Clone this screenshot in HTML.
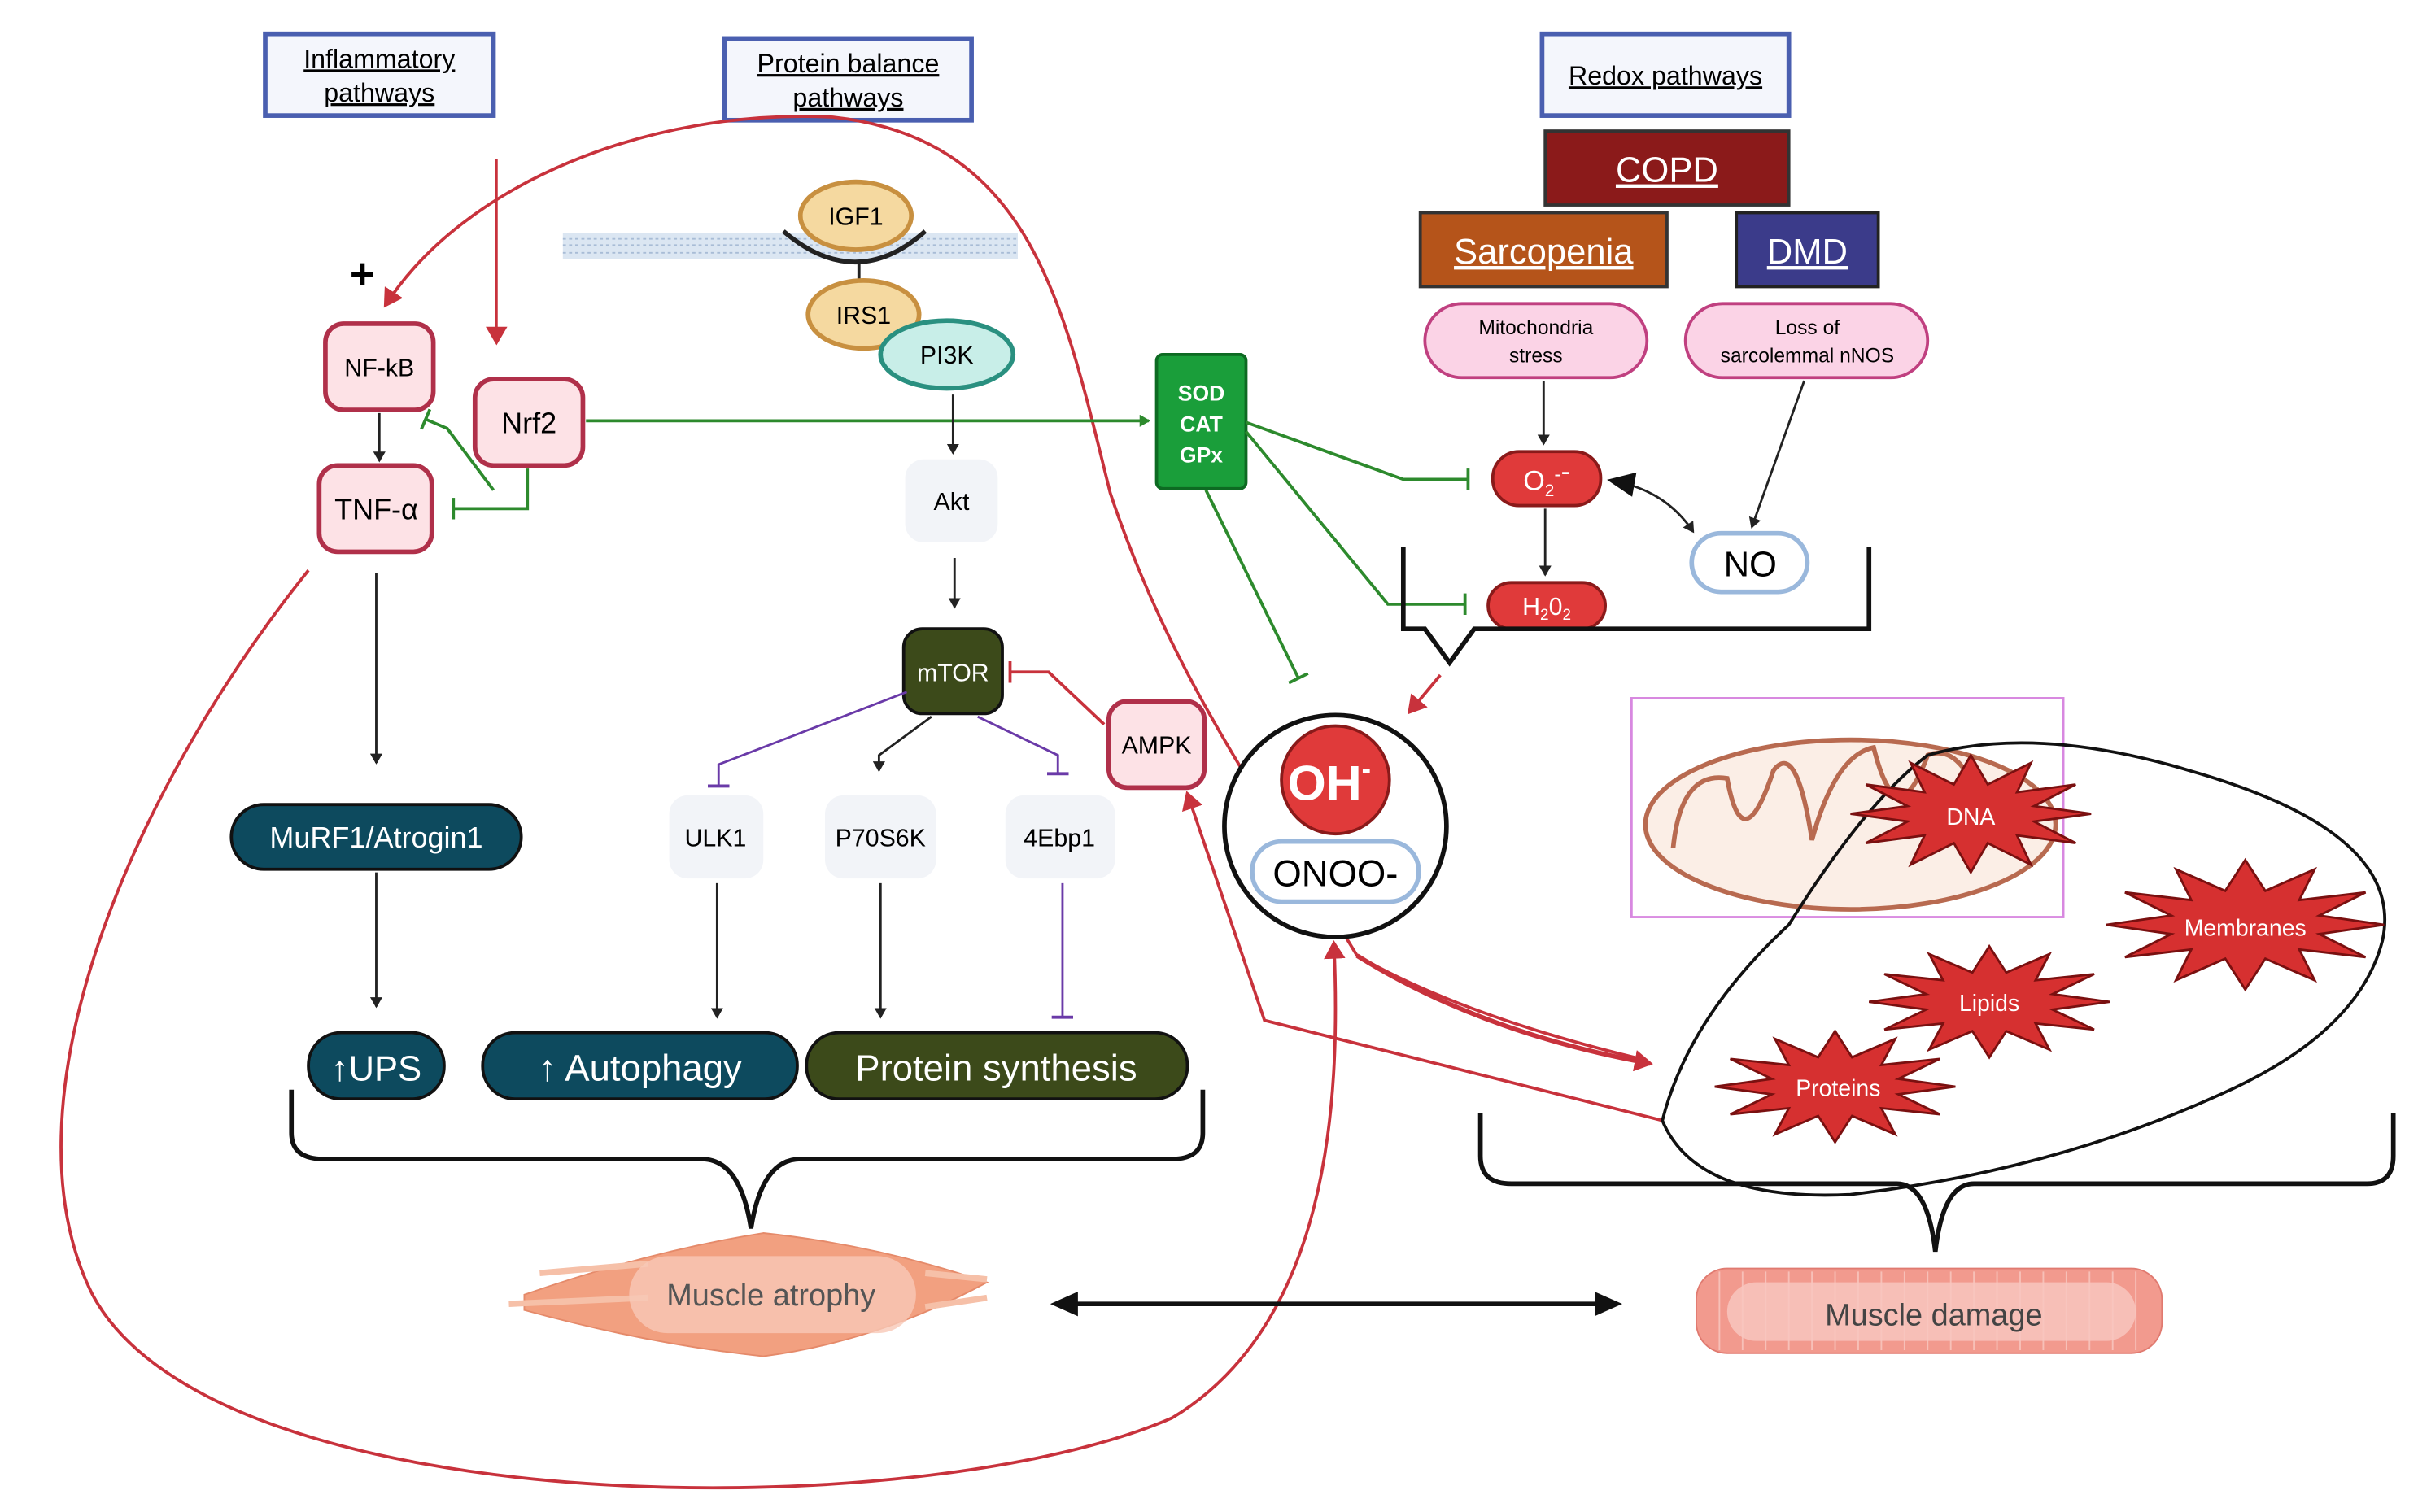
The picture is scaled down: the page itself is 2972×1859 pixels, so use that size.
<!DOCTYPE html>
<html><head><meta charset="utf-8"><style>
html,body{margin:0;padding:0;background:#fff}
svg{display:block}
text{font-family:"Liberation Sans",sans-serif}
</style></head><body>
<svg width="2972" height="1859" viewBox="0 0 1568 981" preserveAspectRatio="none" xmlns="http://www.w3.org/2000/svg">
<defs>
<marker id="ak" markerWidth="8" markerHeight="8" refX="6" refY="4" orient="auto" markerUnits="userSpaceOnUse"><path d="M0,0 L7,4 L0,8z" fill="#222"/></marker>
<marker id="ar" markerWidth="14" markerHeight="14" refX="10" refY="7" orient="auto" markerUnits="userSpaceOnUse"><path d="M0,0 L12,7 L0,14z" fill="#c8323c"/></marker>
<marker id="ag" markerWidth="8" markerHeight="8" refX="6" refY="4" orient="auto" markerUnits="userSpaceOnUse"><path d="M0,0 L7,4 L0,8z" fill="#2d8a2d"/></marker>
<marker id="tg" markerWidth="4" markerHeight="14" refX="2" refY="7" orient="auto" markerUnits="userSpaceOnUse"><path d="M2,0 L2,14" stroke="#2d8a2d" stroke-width="2"/></marker>
<marker id="tp" markerWidth="4" markerHeight="14" refX="2" refY="7" orient="auto" markerUnits="userSpaceOnUse"><path d="M2,0 L2,14" stroke="#6a3aa8" stroke-width="2"/></marker>
<marker id="tr" markerWidth="4" markerHeight="14" refX="2" refY="7" orient="auto" markerUnits="userSpaceOnUse"><path d="M2,0 L2,14" stroke="#c8323c" stroke-width="2"/></marker>
<marker id="bk" markerWidth="20" markerHeight="20" refX="14" refY="10" orient="auto" markerUnits="userSpaceOnUse"><path d="M0,2 L18,10 L0,18z" fill="#111"/></marker>
<marker id="bks" markerWidth="20" markerHeight="20" refX="4" refY="10" orient="auto" markerUnits="userSpaceOnUse"><path d="M18,2 L0,10 L18,18z" fill="#111"/></marker>
</defs>

<!-- headers -->
<rect x="172" y="22" width="148" height="53" fill="#f4f6fc" stroke="#4a5fb0" stroke-width="3"/>
<text x="246" y="44" font-size="17" text-anchor="middle" text-decoration="underline">Inflammatory</text>
<text x="246" y="66" font-size="17" text-anchor="middle" text-decoration="underline">pathways</text>
<rect x="470" y="25" width="160" height="53" fill="#f4f6fc" stroke="#4a5fb0" stroke-width="3"/>
<text x="550" y="47" font-size="17" text-anchor="middle" text-decoration="underline">Protein balance</text>
<text x="550" y="69" font-size="17" text-anchor="middle" text-decoration="underline">pathways</text>
<rect x="1000" y="22" width="160" height="53" fill="#f4f6fc" stroke="#4a5fb0" stroke-width="3"/>
<text x="1080" y="55" font-size="17" text-anchor="middle" text-decoration="underline">Redox pathways</text>

<rect x="1002" y="85" width="158" height="48" fill="#8b1a1a" stroke="#333" stroke-width="2"/>
<text x="1081" y="118" font-size="23" fill="#fff" text-anchor="middle" text-decoration="underline">COPD</text>
<rect x="921" y="138" width="160" height="48" fill="#b5541a" stroke="#333" stroke-width="2"/>
<text x="1001" y="171" font-size="23" fill="#fff" text-anchor="middle" text-decoration="underline">Sarcopenia</text>
<rect x="1126" y="138" width="92" height="48" fill="#3b3b8a" stroke="#222" stroke-width="2"/>
<text x="1172" y="171" font-size="23" fill="#fff" text-anchor="middle" text-decoration="underline">DMD</text>

<rect x="924" y="197" width="144" height="48" rx="24" fill="#fbd3e6" stroke="#c04080" stroke-width="2"/>
<text x="996" y="217" font-size="13" text-anchor="middle">Mitochondria</text>
<text x="996" y="235" font-size="13" text-anchor="middle">stress</text>
<rect x="1093" y="197" width="157" height="48" rx="24" fill="#fbd3e6" stroke="#c04080" stroke-width="2"/>
<text x="1172" y="217" font-size="13" text-anchor="middle">Loss of</text>
<text x="1172" y="235" font-size="13" text-anchor="middle">sarcolemmal nNOS</text>

<!-- membrane -->
<rect x="365" y="151" width="295" height="17" fill="#dbe6f2"/>
<path d="M365,155 H660 M365,159 H660 M365,164 H660" stroke="#a8bcd6" stroke-width="1" stroke-dasharray="2 2"/>
<path d="M508,150 Q555,190 600,150" fill="none" stroke="#222" stroke-width="3"/>
<line x1="557" y1="170" x2="557" y2="186" stroke="#222" stroke-width="2"/>
<ellipse cx="555" cy="140" rx="36" ry="22" fill="#f5d9a0" stroke="#c89040" stroke-width="3"/>
<text x="555" y="146" font-size="16" text-anchor="middle">IGF1</text>
<ellipse cx="560" cy="204" rx="36" ry="22" fill="#f5d9a0" stroke="#c89040" stroke-width="3"/>
<text x="560" y="210" font-size="16" text-anchor="middle">IRS1</text>
<ellipse cx="614" cy="230" rx="43" ry="22" fill="#c8eee8" stroke="#2a9080" stroke-width="3"/>
<text x="614" y="236" font-size="16" text-anchor="middle">PI3K</text>

<!-- red curves (behind) -->
<path d="M1068,688 Q950,660 880,620 C820,520 760,440 720,320 C690,200 670,90 540,76 C420,70 300,120 250,198" fill="none" stroke="#c8323c" stroke-width="2" marker-end="url(#ar)"/>
<path d="M880,620 Q960,670 1070,690" fill="none" stroke="#c8323c" stroke-width="3" marker-end="url(#ar)"/>
<line x1="322" y1="103" x2="322" y2="222" stroke="#c8323c" stroke-width="1.5" marker-end="url(#ar)"/>
<path d="M200,370 C80,520 0,720 60,840 C140,990 600,990 760,920 C860,860 870,720 865,612" fill="none" stroke="#c8323c" stroke-width="2" marker-end="url(#ar)"/>
<path d="M1078,727 L820,662 L770,515" fill="none" stroke="#c8323c" stroke-width="2" marker-end="url(#ar)"/>

<!-- inflammatory -->
<text x="235" y="187" font-size="28" font-weight="bold" text-anchor="middle">+</text>
<rect x="211" y="210" width="70" height="56" rx="12" fill="#fde2e6" stroke="#b0304a" stroke-width="3"/>
<text x="246" y="244" font-size="16" text-anchor="middle">NF-kB</text>
<rect x="308" y="246" width="70" height="56" rx="12" fill="#fde2e6" stroke="#b0304a" stroke-width="3"/>
<text x="343" y="281" font-size="19" text-anchor="middle">Nrf2</text>
<rect x="207" y="302" width="73" height="56" rx="12" fill="#fde2e6" stroke="#b0304a" stroke-width="3"/>
<text x="244" y="337" font-size="19" text-anchor="middle">TNF-α</text>
<line x1="246" y1="268" x2="246" y2="299" stroke="#222" stroke-width="1.5" marker-end="url(#ak)"/>
<path d="M342,304 V330 H294" fill="none" stroke="#2d8a2d" stroke-width="2" marker-end="url(#tg)"/>
<path d="M320,318 L290,278 L276,272" fill="none" stroke="#2d8a2d" stroke-width="2" marker-end="url(#tg)"/>
<line x1="380" y1="273" x2="745" y2="273" stroke="#2d8a2d" stroke-width="2" marker-end="url(#ag)"/>
<line x1="244" y1="372" x2="244" y2="495" stroke="#222" stroke-width="1.5" marker-end="url(#ak)"/>
<rect x="150" y="522" width="188" height="42" rx="21" fill="#0d4a5e" stroke="#111" stroke-width="2"/>
<text x="244" y="550" font-size="19" fill="#fff" text-anchor="middle">MuRF1/Atrogin1</text>
<line x1="244" y1="566" x2="244" y2="653" stroke="#222" stroke-width="1.5" marker-end="url(#ak)"/>

<!-- protein -->
<line x1="618" y1="256" x2="618" y2="294" stroke="#222" stroke-width="1.5" marker-end="url(#ak)"/>
<rect x="587" y="298" width="60" height="54" rx="12" fill="#f2f4f8"/>
<text x="617" y="331" font-size="16" text-anchor="middle">Akt</text>
<line x1="619" y1="362" x2="619" y2="394" stroke="#222" stroke-width="1.5" marker-end="url(#ak)"/>
<rect x="586" y="408" width="64" height="55" rx="12" fill="#3c4a1a" stroke="#111" stroke-width="2"/>
<text x="618" y="442" font-size="16" fill="#fff" text-anchor="middle">mTOR</text>
<rect x="719" y="455" width="62" height="56" rx="12" fill="#fde2e6" stroke="#b0304a" stroke-width="3"/>
<text x="750" y="489" font-size="16" text-anchor="middle">AMPK</text>
<path d="M716,470 L680,436 H655" fill="none" stroke="#c8323c" stroke-width="2" marker-end="url(#tr)"/>
<path d="M588,449 L466,496 V510" fill="none" stroke="#6a3aa8" stroke-width="1.5" marker-end="url(#tp)"/>
<path d="M604,465 L570,490 V500" fill="none" stroke="#222" stroke-width="1.5" marker-end="url(#ak)"/>
<path d="M634,465 L686,490 V502" fill="none" stroke="#6a3aa8" stroke-width="1.5" marker-end="url(#tp)"/>
<rect x="434" y="516" width="61" height="54" rx="12" fill="#f2f4f8"/>
<text x="464" y="549" font-size="16" text-anchor="middle">ULK1</text>
<rect x="535" y="516" width="72" height="54" rx="12" fill="#f2f4f8"/>
<text x="571" y="549" font-size="16" text-anchor="middle">P70S6K</text>
<rect x="652" y="516" width="71" height="54" rx="12" fill="#f2f4f8"/>
<text x="687" y="549" font-size="16" text-anchor="middle">4Ebp1</text>
<line x1="465" y1="573" x2="465" y2="660" stroke="#222" stroke-width="1.5" marker-end="url(#ak)"/>
<line x1="571" y1="573" x2="571" y2="660" stroke="#222" stroke-width="1.5" marker-end="url(#ak)"/>
<line x1="689" y1="573" x2="689" y2="660" stroke="#6a3aa8" stroke-width="1.5" marker-end="url(#tp)"/>

<rect x="200" y="670" width="88" height="43" rx="21" fill="#0d4a5e" stroke="#111" stroke-width="2"/>
<text x="244" y="701" font-size="23" fill="#fff" text-anchor="middle">↑UPS</text>
<rect x="313" y="670" width="204" height="43" rx="21" fill="#0d4a5e" stroke="#111" stroke-width="2"/>
<text x="415" y="701" font-size="24" fill="#fff" text-anchor="middle">↑ Autophagy</text>
<rect x="523" y="670" width="247" height="43" rx="21" fill="#3c4a1a" stroke="#111" stroke-width="2"/>
<text x="646" y="701" font-size="24" fill="#fff" text-anchor="middle">Protein synthesis</text>

<!-- brace left -->
<path d="M189,707 V735 Q189,752 210,752 H455 Q480,752 487,797 Q494,752 519,752 H760 Q780,752 780,735 V707" fill="none" stroke="#111" stroke-width="3"/>
<!-- muscle atrophy -->
<path d="M340,840 Q420,812 495,800 Q570,808 640,832 Q570,870 495,880 Q420,872 340,850z" fill="#f2a080" stroke="#e58a6a"/>
<path d="M350,826 L420,820 M330,846 L420,842 M600,826 L640,830 M600,848 L640,842" stroke="#f6c0a8" stroke-width="4" fill="none"/>
<rect x="408" y="815" width="186" height="50" rx="25" fill="#f8c8b6" opacity="0.8"/>
<text x="500" y="847" font-size="20" fill="#555" text-anchor="middle">Muscle atrophy</text>
<line x1="685" y1="846" x2="1048" y2="846" stroke="#111" stroke-width="3" marker-start="url(#bks)" marker-end="url(#bk)"/>
<!-- muscle damage -->
<rect x="1100" y="823" width="302" height="55" rx="20" fill="#f29a8e" stroke="#e07a70"/>
<path d="M1115,825 V876 M1130,825 V876 M1145,825 V876 M1160,825 V876 M1175,825 V876 M1190,825 V876 M1205,825 V876 M1220,825 V876 M1235,825 V876 M1250,825 V876 M1265,825 V876 M1280,825 V876 M1295,825 V876 M1310,825 V876 M1325,825 V876 M1340,825 V876 M1355,825 V876 M1370,825 V876 M1385,825 V876" stroke="#f7c0b8" stroke-width="1"/>
<rect x="1120" y="832" width="265" height="38" rx="19" fill="#f8c6be" opacity="0.85"/>
<text x="1254" y="860" font-size="20" fill="#444" text-anchor="middle">Muscle damage</text>

<!-- redox -->
<rect x="750" y="230" width="58" height="87" rx="4" fill="#1a9e3a" stroke="#0d6a22" stroke-width="2"/>
<text x="779" y="260" font-size="14" fill="#fff" font-weight="bold" text-anchor="middle">SOD</text>
<text x="779" y="280" font-size="14" fill="#fff" font-weight="bold" text-anchor="middle">CAT</text>
<text x="779" y="300" font-size="14" fill="#fff" font-weight="bold" text-anchor="middle">GPx</text>
<path d="M808,274 L910,311 H952" fill="none" stroke="#2d8a2d" stroke-width="2" marker-end="url(#tg)"/>
<path d="M808,280 L900,392 H950" fill="none" stroke="#2d8a2d" stroke-width="2" marker-end="url(#tg)"/>
<path d="M782,318 L842,440" fill="none" stroke="#2d8a2d" stroke-width="2" marker-end="url(#tg)"/>
<line x1="1001" y1="247" x2="1001" y2="288" stroke="#222" stroke-width="1.5" marker-end="url(#ak)"/>
<line x1="1170" y1="247" x2="1136" y2="342" stroke="#222" stroke-width="1.5" marker-end="url(#ak)"/>
<rect x="968" y="293" width="70" height="35" rx="17" fill="#e03a3a" stroke="#8a1a1a" stroke-width="2"/>
<text x="1003" y="318" font-size="18" fill="#fff" text-anchor="middle">O<tspan font-size="11" dy="4">2</tspan><tspan dy="-10" font-size="13">-</tspan>-</text>
<path d="M1046,312 Q1080,318 1098,345" fill="none" stroke="#222" stroke-width="1.5" marker-start="url(#bks)" marker-end="url(#ak)"/>
<line x1="1002" y1="330" x2="1002" y2="373" stroke="#222" stroke-width="1.5" marker-end="url(#ak)"/>
<rect x="965" y="378" width="76" height="30" rx="15" fill="#e03a3a" stroke="#8a1a1a" stroke-width="2"/>
<text x="1003" y="399" font-size="16" fill="#fff" text-anchor="middle">H<tspan font-size="10" dy="3">2</tspan><tspan dy="-3">0</tspan><tspan font-size="10" dy="3">2</tspan></text>
<rect x="1097" y="346" width="75" height="38" rx="19" fill="#fff" stroke="#9ab8dc" stroke-width="3"/>
<text x="1135" y="374" font-size="23" text-anchor="middle">NO</text>
<path d="M910,355 V408 H924 L940,430 L956,408 H1212 V355" fill="none" stroke="#111" stroke-width="3"/>
<line x1="934" y1="438" x2="914" y2="462" stroke="#c8323c" stroke-width="2" marker-end="url(#ar)"/>

<circle cx="866" cy="536" r="72" fill="#fff" stroke="#111" stroke-width="3"/>
<circle cx="866" cy="506" r="35" fill="#e03a3a" stroke="#8a1a1a" stroke-width="2"/>
<text x="862" y="519" font-size="32" font-weight="bold" fill="#fff" text-anchor="middle">OH<tspan font-size="18" dy="-14">-</tspan></text>
<rect x="812" y="546" width="108" height="39" rx="19" fill="#fff" stroke="#9ab8dc" stroke-width="3"/>
<text x="866" y="575" font-size="24" text-anchor="middle">ONOO-</text>

<!-- cell -->
<rect x="1058" y="453" width="280" height="142" fill="none" stroke="#d888e0" stroke-width="1.5"/>
<ellipse cx="1200" cy="535" rx="133" ry="55" fill="#fbeee6" stroke="#b86a50" stroke-width="3"/>
<path d="M1085,550 Q1090,500 1120,505 Q1130,560 1150,500 Q1165,480 1175,545 Q1190,490 1215,485 Q1230,545 1250,490 Q1275,480 1290,540 Q1305,500 1315,535" fill="none" stroke="#b86a50" stroke-width="3"/>
<path d="M1078,727 Q1095,660 1160,600 Q1210,520 1250,490 Q1320,470 1420,500 Q1560,540 1545,610 Q1530,670 1440,710 Q1330,760 1200,775 Q1100,780 1078,727z" fill="none" stroke="#111" stroke-width="2"/>
<g fill="#d63030" stroke="#7a1010" stroke-width="1.5">
<polygon transform="translate(1278,528)" points="78,0 41,5 68,19 30,14 39,33 11,19 0,38 -11,19 -39,33 -30,14 -68,19 -41,5 -78,0 -41,-5 -68,-19 -30,-14 -39,-33 -11,-19 0,-38 11,-19 39,-33 30,-14 68,-19 41,-5"/>
<polygon transform="translate(1456,600)" points="90,0 48,6 78,21 35,16 45,36 13,22 0,42 -13,22 -45,36 -35,16 -78,21 -48,6 -90,0 -48,-6 -78,-21 -35,-16 -45,-36 -13,-22 0,-42 13,-22 45,-36 35,-16 78,-21 48,-6"/>
<polygon transform="translate(1290,650)" points="78,0 41,5 68,18 30,14 39,31 11,19 0,36 -11,19 -39,31 -30,14 -68,18 -41,5 -78,0 -41,-5 -68,-18 -30,-14 -39,-31 -11,-19 0,-36 11,-19 39,-31 30,-14 68,-18 41,-5"/>
<polygon transform="translate(1190,705)" points="78,0 41,5 68,18 30,14 39,31 11,19 0,36 -11,19 -39,31 -30,14 -68,18 -41,5 -78,0 -41,-5 -68,-18 -30,-14 -39,-31 -11,-19 0,-36 11,-19 39,-31 30,-14 68,-18 41,-5"/>
</g>
<text x="1278" y="535" font-size="15" fill="#fff" text-anchor="middle">DNA</text>
<text x="1456" y="607" font-size="15" fill="#fff" text-anchor="middle">Membranes</text>
<text x="1290" y="656" font-size="15" fill="#fff" text-anchor="middle">Lipids</text>
<text x="1192" y="711" font-size="15" fill="#fff" text-anchor="middle">Proteins</text>
<path d="M960,722 V750 Q960,768 980,768 H1230 Q1250,768 1255,812 Q1260,768 1280,768 H1535 Q1552,768 1552,750 V722" fill="none" stroke="#111" stroke-width="3"/>
</svg>
</body></html>
